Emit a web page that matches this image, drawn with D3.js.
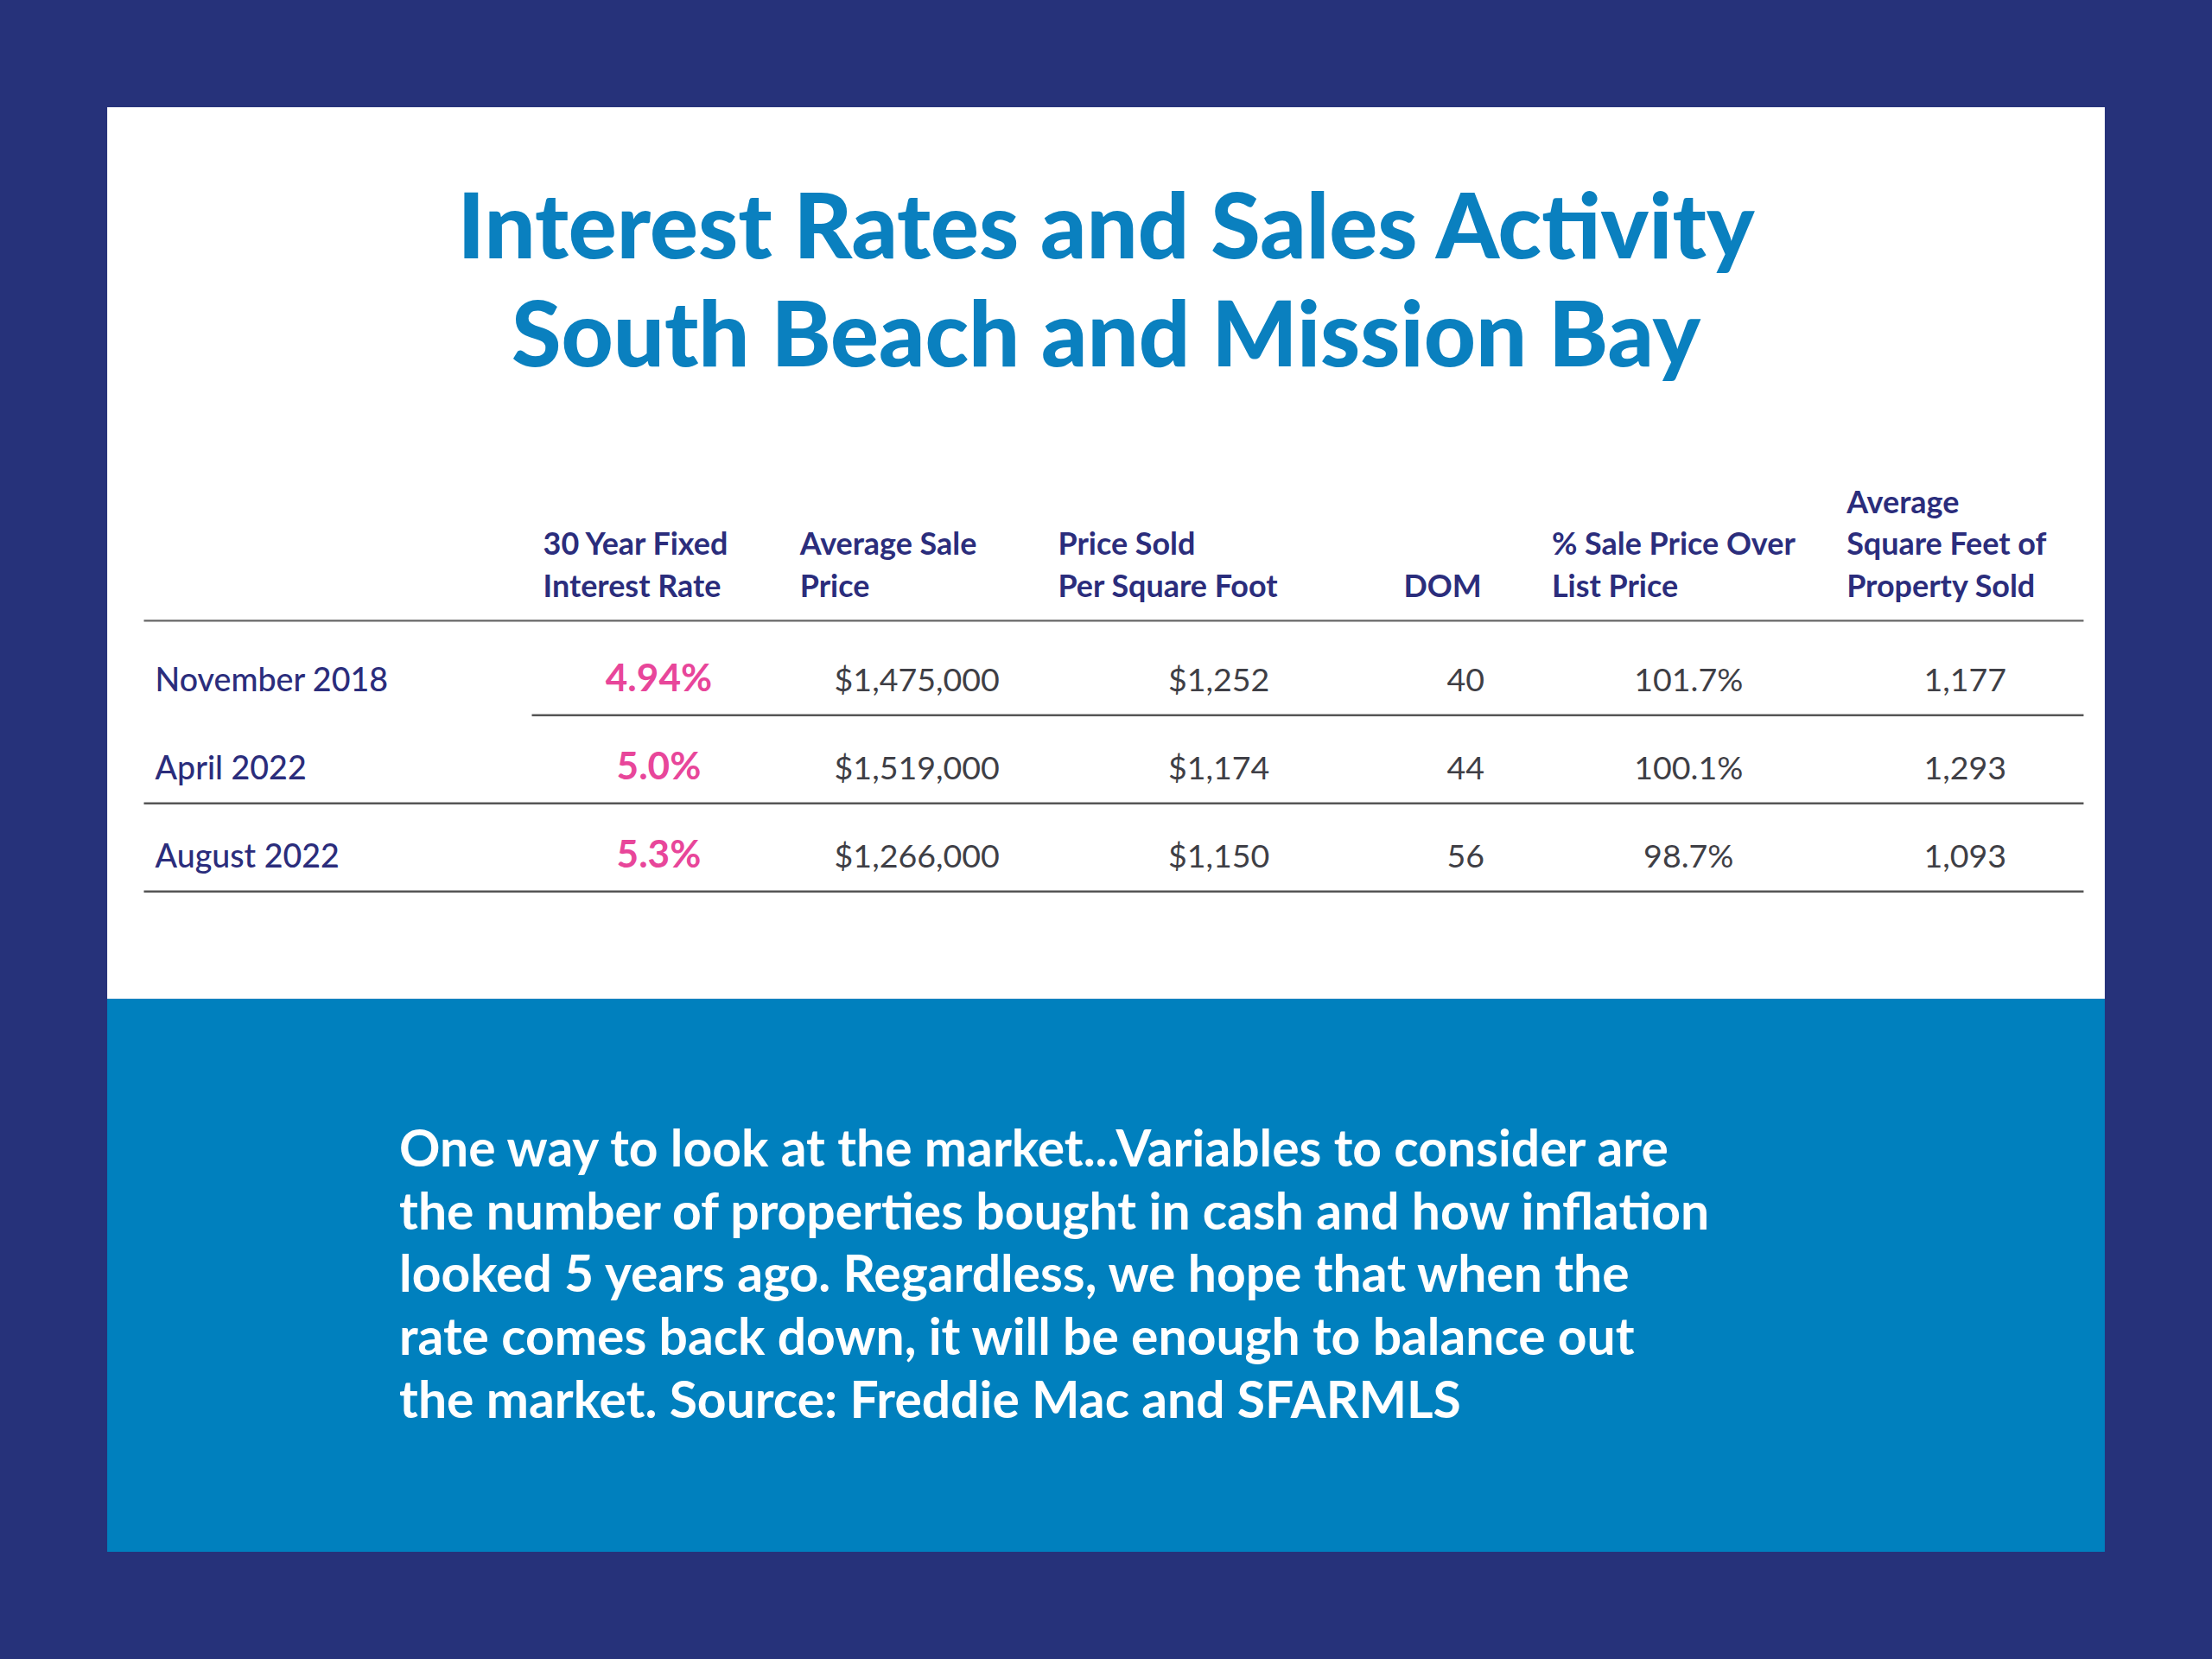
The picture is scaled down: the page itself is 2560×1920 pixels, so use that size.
<!DOCTYPE html>
<html><head><meta charset="utf-8">
<script src="https://cdn.jsdelivr.net/npm/d3@7"></script>
<style>body{margin:0;background:#26327a}svg{display:block}text{font-family:Lato,"Open Sans",sans-serif}</style>
</head><body><svg id="chart"></svg>
<script>
var titleLines = ['Interest Rates and Sales Activity', 'South Beach and Mission Bay'];
var headers = [
  ['30 Year Fixed', 'Interest Rate'],
  ['Average Sale', 'Price'],
  ['Price Sold', 'Per Square Foot'],
  ['DOM'],
  ['% Sale Price Over', 'List Price'],
  ['Average', 'Square Feet of', 'Property Sold']
];
var periods = ['November 2018', 'April 2022', 'August 2022'];
var rates = ['4.94%', '5.0%', '5.3%'];
var avgPrice = ['$1,475,000', '$1,519,000', '$1,266,000'];
var pricePerSqft = ['$1,252', '$1,174', '$1,150'];
var dom = ['40', '44', '56'];
var pctOverList = ['101.7%', '100.1%', '98.7%'];
var avgSqft = ['1,177', '1,293', '1,093'];
var note = ['One way to look at the market...Variables to consider are',
  'the number of properties bought in cash and how inflation',
  'looked 5 years ago. Regardless, we hope that when the',
  'rate comes back down, it will be enough to balance out',
  'the market. Source: Freddie Mac and SFARMLS'];

var W = 1568, H = 1176;
var svg = d3.select('#chart').attr('width', 2560).attr('height', 1920)
  .attr('viewBox', '0 0 ' + W + ' ' + H);
var NAVY = '#2b2d7c', BLUE = '#0a80bf', PINK = '#e8469a', GREY = '#3f3f46';

svg.append('rect').attr('width', W).attr('height', H).attr('fill', '#26327a');
svg.append('rect').attr('x', 76).attr('y', 76).attr('width', 1416).attr('height', 632).attr('fill', '#fff');
svg.append('rect').attr('x', 76).attr('y', 708).attr('width', 1416).attr('height', 392).attr('fill', '#0080be');

svg.selectAll('.title').data(titleLines).enter().append('text')
  .attr('x', 784).attr('y', function(d, i) { return 183 + i * 77; })
  .attr('text-anchor', 'middle').attr('font-size', 64).attr('font-weight', 900)
  .attr('fill', BLUE).text(function(d) { return d; });

// header block, bottom aligned
var headX = [385, 567, 750, 995, 1100, 1309];
headers.forEach(function(lines, c) {
  lines.forEach(function(l, i) {
    svg.append('text').attr('x', headX[c]).attr('y', 423 - (lines.length - 1 - i) * 29.5)
      .attr('font-size', 22).attr('font-weight', 700).attr('fill', NAVY).text(l);
  });
});
svg.append('line').attr('x1', 102).attr('x2', 1477).attr('y1', 440).attr('y2', 440)
  .attr('stroke', '#666').attr('stroke-width', 1.5);

var y = d3.scalePoint().domain(periods).range([490, 615]);
var cols = [
  {vals: rates, x: 467, color: PINK, size: 27, weight: 700},
  {vals: avgPrice, x: 650},
  {vals: pricePerSqft, x: 864},
  {vals: dom, x: 1039},
  {vals: pctOverList, x: 1197},
  {vals: avgSqft, x: 1393}
];
var rows = svg.selectAll('.row').data(periods).enter().append('g')
  .attr('transform', function(d) { return 'translate(0,' + y(d) + ')'; });
rows.append('text').attr('x', 110).attr('font-size', 23).attr('fill', NAVY).attr('font-weight', 500)
  .text(function(d) { return d; });
cols.forEach(function(c) {
  rows.append('text').attr('x', c.x).attr('text-anchor', 'middle')
    .attr('font-size', c.size || 23).attr('font-weight', c.weight || 400)
    .attr('fill', c.color || GREY).text(function(d, i) { return c.vals[i]; });
});
rows.append('line').attr('x1', function(d, i) { return i === 0 ? 377 : 102; }).attr('x2', 1477)
  .attr('y1', 17).attr('y2', 17).attr('stroke', '#555').attr('stroke-width', 1.5);

svg.selectAll('.note').data(note).enter().append('text')
  .attr('x', 283).attr('y', function(d, i) { return 827 + i * 44.5; })
  .attr('font-size', 36).attr('font-weight', 700).attr('fill', '#fff').text(function(d) { return d; });
</script></body></html>
